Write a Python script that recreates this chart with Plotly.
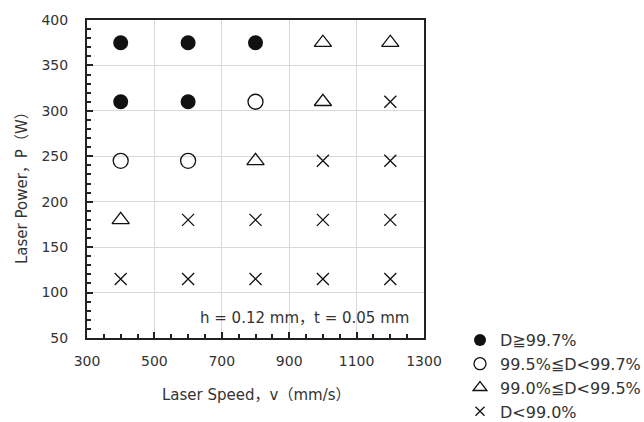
import plotly.graph_objects as go

# Process window: scan speed (mm/s) x laser power (W)
speeds = [400, 600, 800, 1000, 1200]
powers = [375, 310, 245, 180, 115]

# Relative density class for each (power row, speed column)
# A: D>=99.7%, B: 99.5-99.7%, C: 99.0-99.5%, X: D<99.0%
density_class = [
    ["A", "A", "A", "C", "C"],
    ["A", "A", "B", "C", "X"],
    ["B", "B", "C", "X", "X"],
    ["C", "X", "X", "X", "X"],
    ["X", "X", "X", "X", "X"],
]

class_labels = {
    "A": "D≧99.7%",
    "B": "99.5%≦D<99.7%",
    "C": "99.0%≦D<99.5%",
    "X": "D<99.0%",
}

FONT = "DejaVu Sans, Noto Sans CJK JP, sans-serif"
INK = "#111111"
TEXT = "#333333"

styles = {
    "A": dict(symbol="circle", size=15, color=INK, line=dict(width=0), lsize=12),
    "B": dict(symbol="circle-open", size=15, color=INK, line=dict(width=1.3, color=INK), lsize=12),
    "C": dict(symbol="triangle-up-open", size=15, color=INK, line=dict(width=1.3, color=INK), lsize=12),
    "X": dict(symbol="x-thin-open", size=12, color=INK, line=dict(width=1.3, color=INK), lsize=9),
}

fig = go.Figure()

for code in ["A", "B", "C", "X"]:
    xs, ys = [], []
    for i, p in enumerate(powers):
        for j, v in enumerate(speeds):
            if density_class[i][j] == code:
                xs.append(v)
                ys.append(p)
    st = styles[code]
    fig.add_trace(go.Scatter(
        x=xs, y=ys, mode="markers", showlegend=False,
        marker=dict(symbol=st["symbol"], size=st["size"], color=st["color"], line=st["line"]),
        hoverinfo="skip",
    ))
    # legend entry with smaller marker
    fig.add_trace(go.Scatter(
        x=[None], y=[None], mode="markers", name=class_labels[code],
        marker=dict(symbol=st["symbol"], size=st["lsize"], color=st["color"], line=st["line"]),
    ))

axis_common = dict(
    showline=True, linecolor="#222222", linewidth=2, mirror=True,
    ticks="inside", tickcolor="#222222", ticklen=6, tickwidth=1.5,
    showgrid=True, gridcolor="#d9d9d9", gridwidth=1,
    zeroline=False,
    tickfont=dict(family=FONT, size=14, color=TEXT),
)

fig.update_xaxes(
    range=[300, 1300], tick0=300, dtick=200,
    minor=dict(ticks="inside", dtick=50, ticklen=4, tickcolor="#222222", showgrid=False),
    ticklabelstandoff=9,
    **axis_common,
)
fig.update_yaxes(
    range=[50, 400], tick0=50, dtick=50,
    minor=dict(ticks="inside", dtick=10, ticklen=4, tickcolor="#222222", showgrid=False),
    ticklabelstandoff=14,
    **axis_common,
)

fig.add_annotation(
    text="Laser Speed，v（mm/s）", xref="paper", yref="paper",
    x=0.504, y=-0.178, xanchor="center", yanchor="middle", showarrow=False,
    font=dict(family=FONT, size=15, color=TEXT),
)
fig.add_annotation(
    text="Laser Power，P（W）", xref="paper", yref="paper",
    x=-0.193, y=0.484, xanchor="center", yanchor="middle", textangle=-90, showarrow=False,
    font=dict(family=FONT, size=15, color=TEXT),
)
fig.add_annotation(
    text="h = 0.12 mm，t = 0.05 mm", xref="paper", yref="paper",
    x=0.96, y=0.0625, xanchor="right", yanchor="middle", showarrow=False,
    font=dict(family=FONT, size=15, color=TEXT),
)

fig.update_layout(
    width=644, height=422,
    margin=dict(l=87, r=220, t=18, b=84),
    paper_bgcolor="white", plot_bgcolor="white",
    legend=dict(
        xref="container", yref="container",
        x=460 / 644, y=1 - 323 / 422, xanchor="left", yanchor="top",
        font=dict(family=FONT, size=16, color=TEXT),
        bgcolor="rgba(0,0,0,0)", borderwidth=0,
    ),
)

fig.write_html("out.html")
